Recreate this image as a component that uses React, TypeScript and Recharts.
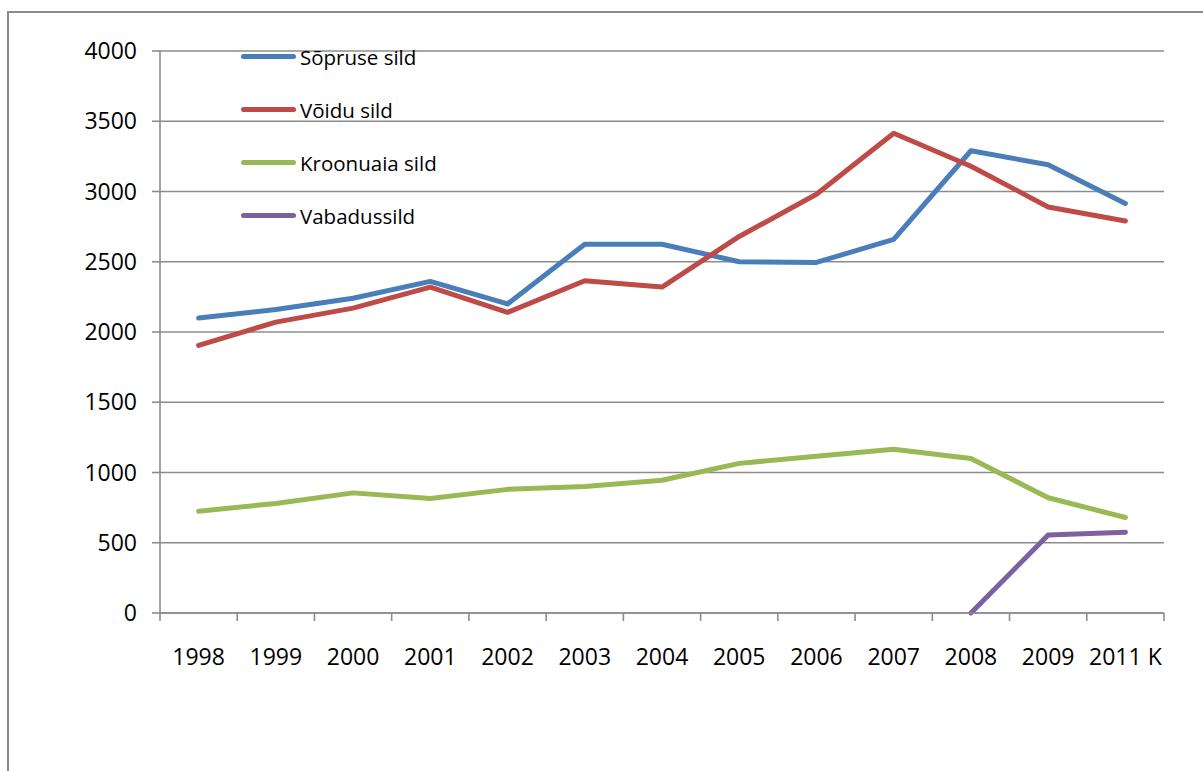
import { CartesianGrid, Legend, Line, LineChart, XAxis, YAxis } from "recharts"

const years = ["1998", "1999", "2000", "2001", "2002", "2003", "2004", "2005", "2006", "2007", "2008", "2009", "2011 K"]

const sopruse = [2100, 2160, 2240, 2360, 2200, 2625, 2625, 2500, 2495, 2660, 3290, 3190, 2915]
const voidu = [1905, 2070, 2170, 2320, 2140, 2365, 2320, 2680, 2980, 3415, 3180, 2890, 2790]
const kroonuaia = [725, 780, 855, 815, 880, 900, 945, 1065, 1115, 1165, 1100, 820, 680]
const vabadus = [null, null, null, null, null, null, null, null, null, null, 0, 555, 575]

const yTicks = [0, 500, 1000, 1500, 2000, 2500, 3000, 3500, 4000]

const series = [
  { key: "sopruse", name: "Sõpruse sild", color: "#4a7ebb" },
  { key: "voidu", name: "Võidu sild", color: "#be4b48" },
  { key: "kroonuaia", name: "Kroonuaia sild", color: "#98b954" },
  { key: "vabadus", name: "Vabadussild", color: "#7d60a0" },
]

// each category sits in the middle of its slot, tick marks fall on slot edges
const data = years.map((year, i) => ({
  x: i + 0.5,
  year,
  sopruse: sopruse[i],
  voidu: voidu[i],
  kroonuaia: kroonuaia[i],
  vabadus: vabadus[i],
}))

const labelTicks = years.map((_, i) => i + 0.5)
const edgeTicks = [...years.map((_, i) => i), years.length]

const font = "'Open Sans', sans-serif"
const gray = "#8c8c8c"

function renderLegend() {
  return (
    <div style={{ fontFamily: font, fontSize: 20.5, color: "#000" }}>
      {series.map((s) => (
        <div key={s.key} style={{ height: 53, display: "flex", alignItems: "center" }}>
          <span
            style={{
              display: "inline-block",
              width: 55,
              height: 5,
              borderRadius: 3,
              background: s.color,
              marginRight: 4,
            }}
          />
          <span>{s.name}</span>
        </div>
      ))}
    </div>
  )
}

export default function App() {
  return (
    <div style={{ position: "absolute", left: 0, top: 0, width: 1203, height: 771, overflow: "hidden", background: "#fff" }}>
      <div
        style={{
          position: "absolute",
          left: 7,
          top: 11,
          width: 1260,
          height: 820,
          border: `2px solid ${gray}`,
        }}
      />
      <LineChart
        width={1203}
        height={771}
        data={data}
        margin={{ top: 51, right: 39, bottom: 97, left: 0 }}
        style={{ position: "absolute", left: 0, top: 0 }}
      >
        <CartesianGrid vertical={false} stroke={gray} strokeWidth={1.6} />
        <XAxis
          xAxisId="edges"
          type="number"
          dataKey="x"
          domain={[0, years.length]}
          ticks={edgeTicks}
          tickFormatter={() => ""}
          interval={0}
          tickSize={8}
          height={1}
          stroke={gray}
          strokeWidth={1.6}
        />
        <XAxis
          xAxisId="labels"
          type="number"
          dataKey="x"
          domain={[0, years.length]}
          ticks={labelTicks}
          tickFormatter={(v) => years[Math.round(v - 0.5)]}
          axisLine={false}
          tickLine={false}
          tickSize={0}
          tickMargin={35}
          height={60}
          interval={0}
          tick={{ fill: "#000", fontSize: 23, fontFamily: font }}
        />
        <YAxis
          domain={[0, 4000]}
          ticks={yTicks}
          width={160}
          tickSize={8}
          tickMargin={15}
          stroke={gray}
          strokeWidth={1.6}
          tick={{ fill: "#000", fontSize: 23, fontFamily: font }}
        />
        <Legend
          layout="vertical"
          align="center"
          verticalAlign="middle"
          content={renderLegend}
          wrapperStyle={{ left: 241, top: 30, width: 250 }}
        />
        {series.map((s) => (
          <Line
            key={s.key}
            xAxisId="labels"
            type="linear"
            dataKey={s.key}
            name={s.name}
            stroke={s.color}
            strokeWidth={5}
            strokeLinecap="round"
            strokeLinejoin="round"
            dot={false}
            activeDot={false}
            isAnimationActive={false}
          />
        ))}
      </LineChart>
    </div>
  )
}
